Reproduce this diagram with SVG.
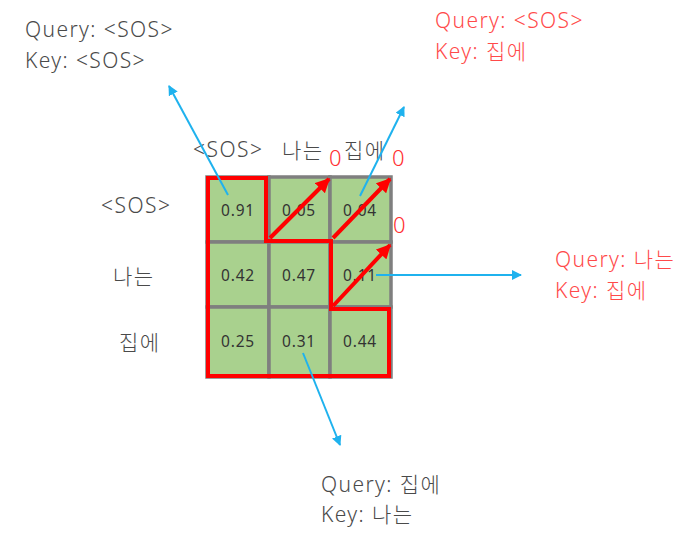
<svg xmlns="http://www.w3.org/2000/svg" width="695" height="552" viewBox="0 0 695 552">
<defs>
<marker id="bh" viewBox="0 0 10 10" refX="9" refY="5" markerWidth="5" markerHeight="5" orient="auto" markerUnits="strokeWidth"><path d="M0,0 L10,5 L0,10 Z" fill="#1FB2EE"/></marker>
<marker id="rh" viewBox="0 0 10 10" refX="9" refY="5" markerWidth="3.6" markerHeight="3.6" orient="auto" markerUnits="strokeWidth"><path d="M0,0 L10,5 L0,10 Z" fill="#FF0000"/></marker>
<style>
text{font-family:"Noto Sans","Noto Sans CJK KR",sans-serif;font-weight:300;}
.lab{font-size:21px;fill:#4A4A4A;letter-spacing:1.5px;}
.note{font-size:21px;fill:#4A4A4A;letter-spacing:1.4px;}
.rnote{font-size:21px;fill:#FF4A4A;letter-spacing:1.4px;}
.zero{font-size:22px;fill:#FF3030;}
.val{font-size:15.5px;fill:#333333;text-anchor:middle;letter-spacing:0.8px;font-weight:400;}
.cell{fill:#A9D18E;stroke:#7F7F7F;stroke-width:3.5;}
.blue{stroke:#1FB2EE;stroke-width:2;fill:none;marker-end:url(#bh);}
.red{stroke:#FF0000;stroke-width:4;fill:none;}
.rarrow{stroke:#FF0000;stroke-width:4;fill:none;marker-end:url(#rh);}
</style>
</defs>
<rect width="695" height="552" fill="#FFFFFF"/>
<g id="matrix">
<rect class="cell" x="207" y="177" width="62" height="65"/>
<rect class="cell" x="269" y="177" width="61" height="65"/>
<rect class="cell" x="330" y="177" width="61" height="65"/>
<rect class="cell" x="207" y="242" width="62" height="65"/>
<rect class="cell" x="269" y="242" width="61" height="65"/>
<rect class="cell" x="330" y="242" width="61" height="65"/>
<rect class="cell" x="207" y="307" width="62" height="70"/>
<rect class="cell" x="269" y="307" width="61" height="70"/>
<rect class="cell" x="330" y="307" width="61" height="70"/>
<text class="val" x="238" y="216">0.91</text>
<text class="val" x="299" y="216">0.05</text>
<text class="val" x="360" y="216">0.04</text>
<text class="val" x="238" y="281">0.42</text>
<text class="val" x="299" y="281">0.47</text>
<text class="val" x="360" y="281">0.11</text>
<text class="val" x="238" y="347">0.25</text>
<text class="val" x="299" y="347">0.31</text>
<text class="val" x="360" y="347">0.44</text>
</g>
<g id="col-labels">
<text class="lab" x="193" y="157">&lt;SOS&gt;</text>
<text class="lab" x="282" y="158">나는</text>
<text class="lab" x="344" y="158">집에</text>
</g>
<g id="row-labels">
<text class="lab" x="101" y="213">&lt;SOS&gt;</text>
<text class="lab" x="113" y="284">나는</text>
<text class="lab" x="119" y="350">집에</text>
</g>
<g id="mask">
<path class="red" d="M208,178 H266 V241 H331 V309 H389 V376 H208 Z"/>
<text class="zero" x="329" y="166">0</text>
<text class="zero" x="392" y="166">0</text>
<text class="zero" x="393" y="233">0</text>
</g>
<g id="connectors">
<line class="rarrow" x1="270" y1="238" x2="329" y2="179"/>
<line class="rarrow" x1="333" y1="238" x2="390" y2="179"/>
<line class="rarrow" x1="333" y1="306" x2="390" y2="245"/>
<line class="blue" x1="228" y1="195" x2="169" y2="86"/>
<line class="blue" x1="360" y1="196" x2="404" y2="107"/>
<line class="blue" x1="376" y1="275" x2="521" y2="275"/>
<line class="blue" x1="303" y1="353" x2="340" y2="445"/>
</g>
<g id="note-sos-sos">
<text class="note" x="25" y="37">Query: &lt;SOS&gt;</text>
<text class="note" x="25" y="68">Key: &lt;SOS&gt;</text>
</g>
<g id="note-sos-home">
<text class="rnote" x="435" y="28">Query: &lt;SOS&gt;</text>
<text class="rnote" x="435" y="59">Key: 집에</text>
</g>
<g id="note-i-home">
<text class="rnote" x="555" y="267">Query: 나는</text>
<text class="rnote" x="555" y="298">Key: 집에</text>
</g>
<g id="note-home-i">
<text class="note" x="321" y="492">Query: 집에</text>
<text class="note" x="321" y="522">Key: 나는</text>
</g>
</svg>
